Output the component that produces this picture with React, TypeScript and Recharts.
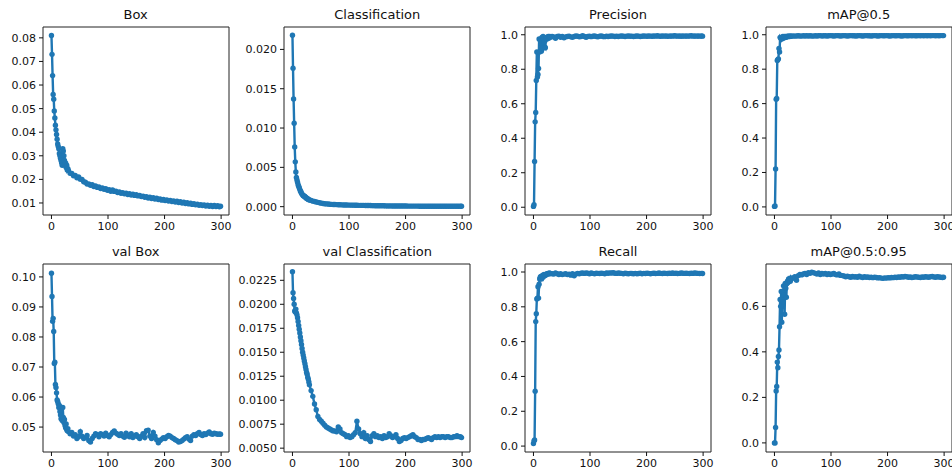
import { LineChart, Line, XAxis, YAxis, ReferenceArea } from 'recharts'

const BLUE = '#1f77b4'
const INK = '#111'
const FONT = '"DejaVu Sans", sans-serif'

// epochs (dense at the start, every 3rd afterwards)
const EPOCHS = [
  0, 1, 2, 3, 4, 5, 6, 7, 8, 9,
  10, 11, 12, 13, 14, 15, 16, 17, 18, 19,
  20, 21, 22, 23, 24, 25, 26, 27, 28, 29,
  30, 33, 36, 39, 42, 45, 48, 51, 54, 57,
  60, 63, 66, 69, 72, 75, 78, 81, 84, 87,
  90, 93, 96, 99, 102, 105, 108, 111, 114, 117,
  120, 123, 126, 129, 132, 135, 138, 141, 144, 147,
  150, 153, 156, 159, 162, 165, 168, 171, 174, 177,
  180, 183, 186, 189, 192, 195, 198, 201, 204, 207,
  210, 213, 216, 219, 222, 225, 228, 231, 234, 237,
  240, 243, 246, 249, 252, 255, 258, 261, 264, 267,
  270, 273, 276, 279, 282, 285, 288, 291, 294, 297,
  299
]

const BOX = [
  0.081, 0.073, 0.064, 0.056, 0.054, 0.049, 0.046, 0.043, 0.041, 0.039,
  0.037, 0.035, 0.034, 0.033, 0.031, 0.030, 0.029, 0.028, 0.027, 0.026,
  0.033, 0.032, 0.030, 0.028, 0.026, 0.027, 0.025, 0.026, 0.024, 0.0245,
  0.0238, 0.0226, 0.0225, 0.0215, 0.0217, 0.0207, 0.0210, 0.0201, 0.0200, 0.0190,
  0.0188, 0.0180, 0.0181, 0.0175, 0.0177, 0.0170, 0.0172, 0.0166, 0.0168, 0.0161,
  0.0164, 0.0158, 0.0160, 0.0154, 0.0156, 0.0150, 0.0155, 0.0149, 0.0150, 0.0144,
  0.0147, 0.0141, 0.0144, 0.0139, 0.0141, 0.0136, 0.0139, 0.0134, 0.0137, 0.0132,
  0.0135, 0.0130, 0.0132, 0.0127, 0.0129, 0.0124, 0.0127, 0.0121, 0.0124, 0.0119,
  0.0122, 0.0117, 0.0120, 0.0115, 0.0117, 0.0112, 0.0115, 0.0110, 0.0113, 0.0108,
  0.0111, 0.0106, 0.0109, 0.0104, 0.0107, 0.0102, 0.0105, 0.0100, 0.0103, 0.0098,
  0.0101, 0.0096, 0.0099, 0.0094, 0.0097, 0.0092, 0.0095, 0.0090, 0.0093, 0.0089,
  0.0092, 0.0087, 0.0091, 0.0086, 0.0090, 0.0085, 0.0089, 0.0085, 0.0088, 0.0084,
  0.0086
]

const CLS = [
  0.0218, 0.0176, 0.0137, 0.0106, 0.0076, 0.0057, 0.0044, 0.0037, 0.0034, 0.0031,
  0.0028, 0.0026, 0.0024, 0.0022, 0.0020, 0.0019, 0.0017, 0.0016, 0.0015, 0.0014,
  0.0014, 0.0013, 0.0013, 0.0012, 0.0011, 0.0011, 0.0010, 0.0010, 0.0009, 0.0009,
  0.00085, 0.0008, 0.0007, 0.00065, 0.0006, 0.00055, 0.0005, 0.00045, 0.0004, 0.00038,
  0.00035, 0.00033, 0.0003, 0.00029, 0.00028, 0.00027, 0.00026, 0.00025, 0.00024, 0.00023,
  0.00022, 0.00022, 0.00021, 0.0002, 0.0002, 0.00019, 0.00019, 0.00018, 0.00018, 0.00017,
  0.00017, 0.00016, 0.00016, 0.00015, 0.00015, 0.00014, 0.00014, 0.00013, 0.00013, 0.00012,
  0.00012, 0.00012, 0.00011, 0.00011, 0.00011, 0.0001, 0.0001, 0.0001, 0.0001, 0.00009,
  0.00009, 0.00009, 0.00009, 0.00008, 0.00008, 0.00008, 0.00008, 0.00008, 0.00007, 0.00007,
  0.00007, 0.00007, 0.00007, 0.00007, 0.00007, 0.00006, 0.00006, 0.00006, 0.00006, 0.00006,
  0.00006, 0.00006, 0.00006, 0.00005, 0.00005, 0.00005, 0.00005, 0.00005, 0.00005, 0.00005,
  0.00005, 0.00005, 0.00005, 0.00005, 0.00005, 0.00005, 0.00005, 0.00005, 0.00005, 0.00005,
  0.00005
]

const PRECISION = [
  0.005, 0.015, 0.265, 0.495, 0.55, 0.735, 0.9, 0.755, 0.77, 0.805,
  0.975, 0.9, 0.97, 0.95, 0.905, 0.985, 0.92, 0.99, 0.975, 0.96,
  0.93, 0.925, 0.98, 0.985, 0.975, 0.985, 0.99, 0.98, 0.985, 0.99,
  0.985, 0.99, 0.988, 0.98, 0.99, 0.992, 0.986, 0.99, 0.983, 0.988,
  0.99, 0.992, 0.988, 0.985, 0.99, 0.993, 0.991, 0.988, 0.99, 0.994,
  0.99, 0.986, 0.99, 0.992, 0.989, 0.991, 0.993, 0.99, 0.988, 0.991,
  0.993, 0.99, 0.989, 0.992, 0.99, 0.991, 0.993, 0.992, 0.99, 0.991,
  0.99, 0.992, 0.993, 0.991, 0.99, 0.992, 0.993, 0.991, 0.992, 0.99,
  0.991, 0.993, 0.992, 0.99, 0.991, 0.993, 0.992, 0.991, 0.993, 0.992,
  0.991, 0.993, 0.992, 0.994, 0.992, 0.991, 0.993, 0.992, 0.993, 0.991,
  0.992, 0.993, 0.992, 0.994, 0.993, 0.992, 0.993, 0.991, 0.993, 0.992,
  0.993, 0.992, 0.993, 0.994, 0.992, 0.993, 0.992, 0.993, 0.992, 0.993,
  0.992
]

const MAP50 = [
  0.003, 0.005, 0.22, 0.625, 0.63, 0.85, 0.855, 0.86, 0.92, 0.9,
  0.985, 0.98, 0.985, 0.975, 0.985, 0.99, 0.98, 0.985, 0.99, 0.985,
  0.99, 0.985, 0.99, 0.99, 0.992, 0.99, 0.991, 0.99, 0.992, 0.991,
  0.992, 0.993, 0.992, 0.993, 0.994, 0.993, 0.992, 0.994, 0.993, 0.994,
  0.993, 0.994, 0.993, 0.992, 0.994, 0.993, 0.994, 0.995, 0.993, 0.994,
  0.994, 0.993, 0.994, 0.995, 0.994, 0.993, 0.994, 0.995, 0.994, 0.993,
  0.994, 0.995, 0.994, 0.993, 0.994, 0.995, 0.994, 0.994, 0.993, 0.994,
  0.995, 0.994, 0.993, 0.994, 0.995, 0.994, 0.994, 0.993, 0.994, 0.995,
  0.994, 0.993, 0.994, 0.995, 0.994, 0.994, 0.995, 0.994, 0.993, 0.994,
  0.995, 0.994, 0.994, 0.995, 0.994, 0.993, 0.994, 0.995, 0.994, 0.994,
  0.995, 0.994, 0.995, 0.994, 0.994, 0.995, 0.994, 0.995, 0.994, 0.995,
  0.994, 0.995, 0.994, 0.995, 0.995, 0.994, 0.995, 0.994, 0.995, 0.995,
  0.995
]

const VAL_BOX = [
  0.1012, 0.0935, 0.0852, 0.0862, 0.0818, 0.0712, 0.0716, 0.0642, 0.0632, 0.0614,
  0.0590, 0.0585, 0.0578, 0.0565, 0.0572, 0.0552, 0.0540, 0.0528, 0.0535, 0.0522,
  0.0565, 0.0532, 0.0515, 0.0525, 0.0505, 0.0498, 0.0510, 0.0492, 0.0488, 0.0495,
  0.0485, 0.0478, 0.0482, 0.0470, 0.0475, 0.0462, 0.0468, 0.0485, 0.0470, 0.0462,
  0.0465, 0.0472, 0.0455, 0.0450, 0.0462, 0.0470, 0.0478, 0.0475, 0.0468, 0.0478,
  0.0475, 0.0470, 0.0480, 0.0472, 0.0468, 0.0475, 0.0482, 0.0487, 0.0480, 0.0476,
  0.0472, 0.0478, 0.0470, 0.0466, 0.0480, 0.0472, 0.0468, 0.0478, 0.0465, 0.0470,
  0.0475, 0.0468, 0.0462, 0.0470, 0.0478, 0.0465, 0.0488, 0.0490, 0.0470, 0.0462,
  0.0482, 0.0470, 0.0458, 0.0448, 0.0455, 0.0460, 0.0465, 0.0462, 0.0468, 0.0472,
  0.0470, 0.0465, 0.0462, 0.0458, 0.0455, 0.0450, 0.0452, 0.0455, 0.0460, 0.0465,
  0.0468, 0.0460, 0.0455, 0.0470, 0.0475, 0.0472, 0.0478, 0.0482, 0.0475, 0.0472,
  0.0478, 0.0475, 0.0480, 0.0484, 0.0478, 0.0476, 0.0480, 0.0478, 0.0476, 0.0477,
  0.0476
]

const VAL_CLS = [
  0.0234, 0.0212, 0.0206, 0.0200, 0.0193, 0.0192, 0.0195, 0.0191, 0.0189, 0.0186,
  0.0182, 0.0178, 0.0174, 0.0170, 0.0166, 0.0162, 0.0158, 0.0154, 0.0150, 0.0147,
  0.0144, 0.0141, 0.0138, 0.0135, 0.0132, 0.0129, 0.0127, 0.0124, 0.0122, 0.0119,
  0.0116, 0.0110, 0.0104, 0.0096, 0.0090, 0.0083, 0.0080, 0.0078, 0.0076, 0.0074,
  0.0072, 0.0071, 0.0070, 0.0069, 0.0068, 0.0068, 0.0067, 0.0072, 0.0070, 0.0066,
  0.0065, 0.0064, 0.0062, 0.0063, 0.0061, 0.0062, 0.0064, 0.0066, 0.0078, 0.0070,
  0.0065, 0.0062, 0.0066, 0.0060, 0.0063, 0.0059, 0.0057, 0.0063, 0.0065, 0.0062,
  0.0063, 0.0061, 0.0062, 0.0060, 0.0063, 0.0061, 0.0062, 0.0065, 0.0063, 0.0061,
  0.0062, 0.0064, 0.0060, 0.0057, 0.0058, 0.0060, 0.0061, 0.0060, 0.0061, 0.0062,
  0.0063, 0.0064, 0.0062, 0.0061, 0.0059, 0.0059, 0.0058, 0.0059, 0.0059, 0.0060,
  0.0061, 0.0060, 0.0059, 0.0061, 0.0062, 0.0061, 0.0062, 0.0061, 0.0062, 0.0062,
  0.0061, 0.0062, 0.0062, 0.0061, 0.0061, 0.0062, 0.0062, 0.0063, 0.0062, 0.0062,
  0.0061
]

const RECALL = [
  0.015, 0.03, 0.035, 0.315, 0.715, 0.76, 0.845, 0.85, 0.915, 0.85,
  0.93, 0.96, 0.97, 0.975, 0.96, 0.975, 0.98, 0.97, 0.985, 0.98,
  0.985, 0.98, 0.988, 0.985, 0.99, 0.988, 0.992, 0.99, 0.995, 0.99,
  0.992, 0.99, 0.988, 0.994, 0.99, 0.986, 0.99, 0.985, 0.988, 0.99,
  0.985, 0.988, 0.982, 0.99, 0.978, 0.988, 0.992, 0.99, 0.993, 0.994,
  0.992, 0.995, 0.993, 0.99, 0.994, 0.992, 0.99, 0.993, 0.992, 0.991,
  0.993, 0.992, 0.99, 0.994, 0.993, 0.995, 0.994, 0.996, 0.993, 0.992,
  0.994, 0.993, 0.992, 0.99, 0.993, 0.991, 0.99, 0.992, 0.991, 0.99,
  0.992, 0.99, 0.991, 0.993, 0.99, 0.992, 0.991, 0.993, 0.992, 0.99,
  0.992, 0.993, 0.991, 0.992, 0.994, 0.992, 0.991, 0.993, 0.992, 0.991,
  0.993, 0.992, 0.994, 0.992, 0.993, 0.991, 0.992, 0.994, 0.993, 0.992,
  0.993, 0.992, 0.991, 0.993, 0.992, 0.994, 0.993, 0.992, 0.991, 0.992,
  0.991
]

const MAP5095 = [
  0.0, 0.0, 0.068, 0.228, 0.248, 0.355, 0.33, 0.38, 0.408, 0.51,
  0.63, 0.6, 0.665, 0.53, 0.665, 0.62, 0.69, 0.65, 0.565, 0.7,
  0.68, 0.64, 0.7, 0.71, 0.705, 0.72, 0.715, 0.72, 0.71, 0.725,
  0.72, 0.725, 0.73, 0.715, 0.735, 0.74, 0.738, 0.742, 0.745, 0.74,
  0.748, 0.745, 0.75, 0.748, 0.745, 0.742, 0.747, 0.74, 0.744, 0.742,
  0.745, 0.74, 0.743, 0.74, 0.742, 0.744, 0.74, 0.738, 0.742, 0.736,
  0.735, 0.733, 0.73, 0.732, 0.73, 0.728, 0.731, 0.729, 0.73, 0.728,
  0.732, 0.729, 0.727, 0.73, 0.728, 0.729, 0.727, 0.728, 0.726, 0.728,
  0.727, 0.725, 0.726, 0.724, 0.723, 0.725, 0.724, 0.726, 0.725, 0.727,
  0.726, 0.728, 0.727, 0.729, 0.728, 0.73, 0.729, 0.731, 0.73, 0.728,
  0.729, 0.727, 0.728, 0.73, 0.729, 0.728, 0.727, 0.729, 0.728, 0.73,
  0.729, 0.728, 0.73, 0.731, 0.729, 0.728, 0.73, 0.729, 0.728, 0.727,
  0.728
]

// tick labels
const X_TICKS = [0, 100, 200, 300]
const BOX_TICKS = [0.01, 0.02, 0.03, 0.04, 0.05, 0.06, 0.07, 0.08]
const CLS_TICKS = [0, 0.005, 0.01, 0.015, 0.02]
const UNIT_TICKS = [0, 0.2, 0.4, 0.6, 0.8, 1.0]
const VAL_BOX_TICKS = [0.05, 0.06, 0.07, 0.08, 0.09, 0.1]
const VAL_CLS_TICKS = [0.005, 0.0075, 0.01, 0.0125, 0.015, 0.0175, 0.02, 0.0225]
const MAP5095_TICKS = [0, 0.2, 0.4, 0.6]

const X_DOMAIN: [number, number] = [-14.95, 313.95]
const BOX_W = 186
const BOX_H = 188
const YW = 60
const XH = 24
const PAD = 4
const COLS = [42.7, 284.3, 525, 765.7]
const ROWS = [27.3, 263.7]

type PanelProps = {
  title: string
  values: number[]
  domain: [number, number]
  ticks: number[]
  digits: number
  left: number
  top: number
}

function Panel ({ title, values, domain, ticks, digits, left, top }: PanelProps) {
  const data = EPOCHS.map((e, i) => ({ epoch: e, value: values[i] }))
  const tickStyle = { fontSize: 11, fill: INK, fontFamily: FONT }
  return (
    <div style={{ position: 'absolute', left: left - YW, top: top - PAD }}>
      <div
        style={{
          position: 'absolute',
          left: YW,
          top: PAD - 20,
          width: BOX_W,
          textAlign: 'center',
          fontFamily: FONT,
          fontSize: 13,
          lineHeight: '15px',
          color: INK
        }}
      >
        {title}
      </div>
      <LineChart
        width={YW + BOX_W + PAD}
        height={PAD + BOX_H + XH}
        data={data}
        margin={{ top: PAD, right: PAD, left: 0, bottom: 0 }}
      >
        <XAxis
          dataKey='epoch'
          type='number'
          domain={X_DOMAIN}
          ticks={X_TICKS}
          interval={0}
          allowDataOverflow
          height={XH}
          axisLine={false}
          tickSize={4}
          tickMargin={3}
          tick={tickStyle}
          tickLine={{ stroke: INK }}
        />
        <YAxis
          type='number'
          domain={domain}
          ticks={ticks}
          interval={0}
          allowDataOverflow
          width={YW}
          axisLine={false}
          tickSize={4}
          tickMargin={3}
          tick={tickStyle}
          tickLine={{ stroke: INK }}
          tickFormatter={(v: number) => v.toFixed(digits)}
        />
        <ReferenceArea
          x1={X_DOMAIN[0]}
          x2={X_DOMAIN[1]}
          y1={domain[0]}
          y2={domain[1]}
          fill='none'
          stroke='#222'
          strokeWidth={1}
          ifOverflow='visible'
        />
        <Line
          type='linear'
          dataKey='value'
          stroke={BLUE}
          strokeWidth={2.4}
          dot={{ r: 2.7, fill: BLUE, stroke: 'none' }}
          activeDot={false}
          isAnimationActive={false}
        />
      </LineChart>
    </div>
  )
}

export default function App () {
  return (
    <div style={{ position: 'absolute', left: 0, top: 0, width: 952, height: 471, background: '#fff', overflow: 'hidden' }}>
      <Panel title='Box' values={BOX} domain={[0.0049, 0.0846]} ticks={BOX_TICKS} digits={2} left={COLS[0]} top={ROWS[0]} />
      <Panel title='Classification' values={CLS} domain={[-0.00106, 0.02285]} ticks={CLS_TICKS} digits={3} left={COLS[1]} top={ROWS[0]} />
      <Panel title='Precision' values={PRECISION} domain={[-0.045, 1.045]} ticks={UNIT_TICKS} digits={1} left={COLS[2]} top={ROWS[0]} />
      <Panel title='mAP@0.5' values={MAP50} domain={[-0.047, 1.045]} ticks={UNIT_TICKS} digits={1} left={COLS[3]} top={ROWS[0]} />
      <Panel title='val Box' values={VAL_BOX} domain={[0.0417, 0.1043]} ticks={VAL_BOX_TICKS} digits={2} left={COLS[0]} top={ROWS[1]} />
      <Panel title='val Classification' values={VAL_CLS} domain={[0.0046, 0.0242]} ticks={VAL_CLS_TICKS} digits={4} left={COLS[1]} top={ROWS[1]} />
      <Panel title='Recall' values={RECALL} domain={[-0.034, 1.046]} ticks={UNIT_TICKS} digits={1} left={COLS[2]} top={ROWS[1]} />
      <Panel title='mAP@0.5:0.95' values={MAP5095} domain={[-0.04, 0.786]} ticks={MAP5095_TICKS} digits={1} left={COLS[3]} top={ROWS[1]} />
    </div>
  )
}
